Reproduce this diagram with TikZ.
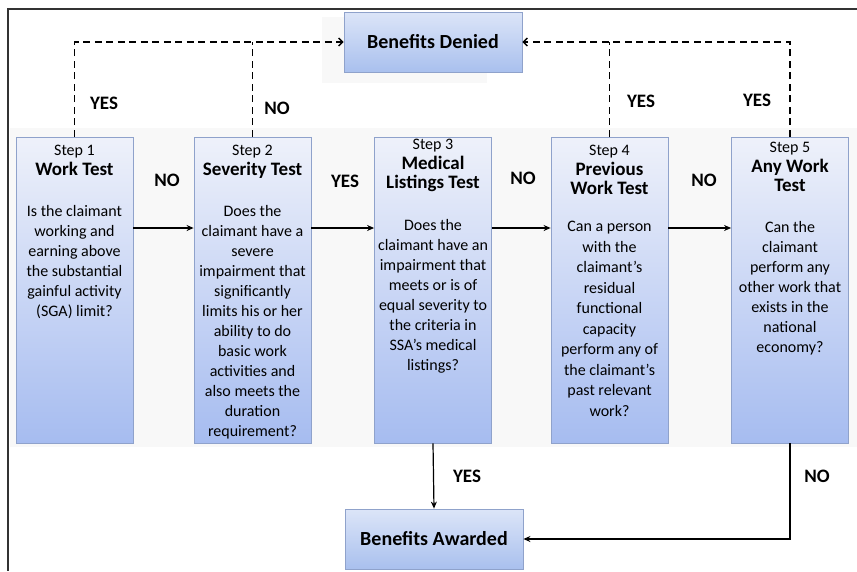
\documentclass[tikz,border=0pt]{standalone}
\usepackage{fontspec}
\setmainfont{Carlito}
\usetikzlibrary{arrows.meta,calc}
\definecolor{boxtop}{HTML}{EEF1FA}
\definecolor{boxbot}{HTML}{A6BCF0}
\definecolor{boxline}{HTML}{8FA2CB}
\definecolor{endtop}{HTML}{DCE5F8}
\definecolor{endbot}{HTML}{A9C0EE}
\definecolor{bandgray}{HTML}{F8F8F8}
\tikzset{
  stepbox/.style={rectangle, draw=boxline, line width=0.8pt, top color=boxtop, bottom color=boxbot,
    minimum width=117pt, minimum height=306pt, inner sep=0pt},
  endbox/.style={rectangle, draw=boxline, line width=0.8pt, top color=endtop, bottom color=endbot,
    minimum width=178pt, minimum height=60pt, inner sep=0pt,
    font=\bfseries\fontsize{20}{22}\selectfont},
  headtxt/.style={anchor=north, inner sep=0pt, align=center, font=\fontsize{19}{19.5}\selectfont},
  bodytxt/.style={anchor=north, inner sep=0pt, align=center, font=\fontsize{16}{20}\selectfont},
  lbl/.style={inner sep=0pt, font=\bfseries\fontsize{19}{19}\selectfont},
  dashline/.style={line width=1.6pt, dash pattern=on 7pt off 4.5pt},
  dasharrow/.style={dashline, -{Straight Barb[length=4pt,width=8pt,line width=1.4pt]}},
  flow/.style={line width=1.6pt, -{Stealth[length=7pt,width=6pt]}},
  flowthin/.style={line width=1.2pt, -{Stealth[length=7pt,width=6pt]}},
}
\newcommand{\stepline}[1]{{\fontsize{16}{19.5}\selectfont #1}}
\begin{document}
\begin{tikzpicture}[x=1pt,y=-1pt]
\useasboundingbox (0,0) rectangle (857,571);
% faint background bands
\fill[bandgray] (10,128) rectangle (857,447);
\fill[bandgray] (322,17) rectangle (487,83);
% frame
\draw[line width=1.2pt, black!80] (857,9) -- (8,9) -- (8,571);

% end boxes
\node[endbox] (den) at (433,42) {Benefits Denied};
\node[endbox] (aw) at (434,539) {Benefits Awarded};

% step boxes
\node[stepbox] (s1) at (74.5,290) {};
\node[stepbox] (s2) at (252.5,290) {};
\node[stepbox] (s3) at (433,290) {};
\node[stepbox] (s4) at (609.5,290) {};
\node[stepbox] (s5) at (790,290) {};

% heads
\node[headtxt] (h1) at (74.5,145) {\stepline{Step 1}\\\textbf{Work Test}};
\node[headtxt] (h2) at (252.5,145) {\stepline{Step 2}\\\textbf{Severity Test}};
\node[headtxt] (h3) at (433,139) {\stepline{Step 3}\\\textbf{Medical}\\\textbf{Listings Test}};
\node[headtxt] (h4) at (609.5,145) {\stepline{Step 4}\\\textbf{Previous}\\\textbf{Work Test}};
\node[headtxt] (h5) at (790,142) {\stepline{Step 5}\\\textbf{Any Work}\\\textbf{Test}};

% bodies
\node[bodytxt] (b1) at (74.5,205) {Is the claimant\\working and\\earning above\\the substantial\\gainful activity\\(SGA) limit?};
\node[bodytxt] (b2) at (252.5,205) {Does the\\claimant have a\\severe\\impairment that\\significantly\\limits his or her\\ability to do\\basic work\\activities and\\also meets the\\duration\\requirement?};
\node[bodytxt] (b3) at (433,219) {Does the\\claimant have an\\impairment that\\meets or is of\\equal severity to\\the criteria in\\SSA's medical\\listings?};
\node[bodytxt, font=\fontsize{16}{20.5}\selectfont] (b4) at (609.5,221) {Can a person\\with the\\claimant's\\residual\\functional\\capacity\\perform any of\\the claimant's\\past relevant\\work?};
\node[bodytxt] (b5) at (790,221) {Can the\\claimant\\perform any\\other work that\\exists in the\\national\\economy?};

% connectors
\coordinate (row) at (0,228);
\draw[flow] (s1.east |- row) -- (s2.west |- row);
\draw[flow] (s2.east |- row) -- (s3.west |- row);
\draw[flow] (s3.east |- row) -- (s4.west |- row);
\draw[flow] (s4.east |- row) -- (s5.west |- row);

\draw[dasharrow] (s1.north) |- (den.west);
\draw[dashline] (s2.north) -- (s2.north |- den.west);
\draw[dasharrow] (s5.north) |- (den.east);
\draw[dashline] (s4.north) -- (s4.north |- den.east);

\draw[flowthin] (s3.south) -- (aw.north);
\draw[flowthin] (s5.south) |- (aw.east);

% labels
\node[lbl] (y1) at (104,103) {YES};
\node[lbl] (n2) at (277,108) {NO};
\node[lbl] (y4) at (641,101) {YES};
\node[lbl] (y5) at (757,100) {YES};
\node[lbl] (n12) at (167,180) {NO};
\node[lbl] (y23) at (345,181) {YES};
\node[lbl] (n34) at (523,178) {NO};
\node[lbl] (n45) at (704,180) {NO};
\node[lbl] (y3) at (467,476) {YES};
\node[lbl] (n5) at (817,476) {NO};
\end{tikzpicture}
\end{document}
